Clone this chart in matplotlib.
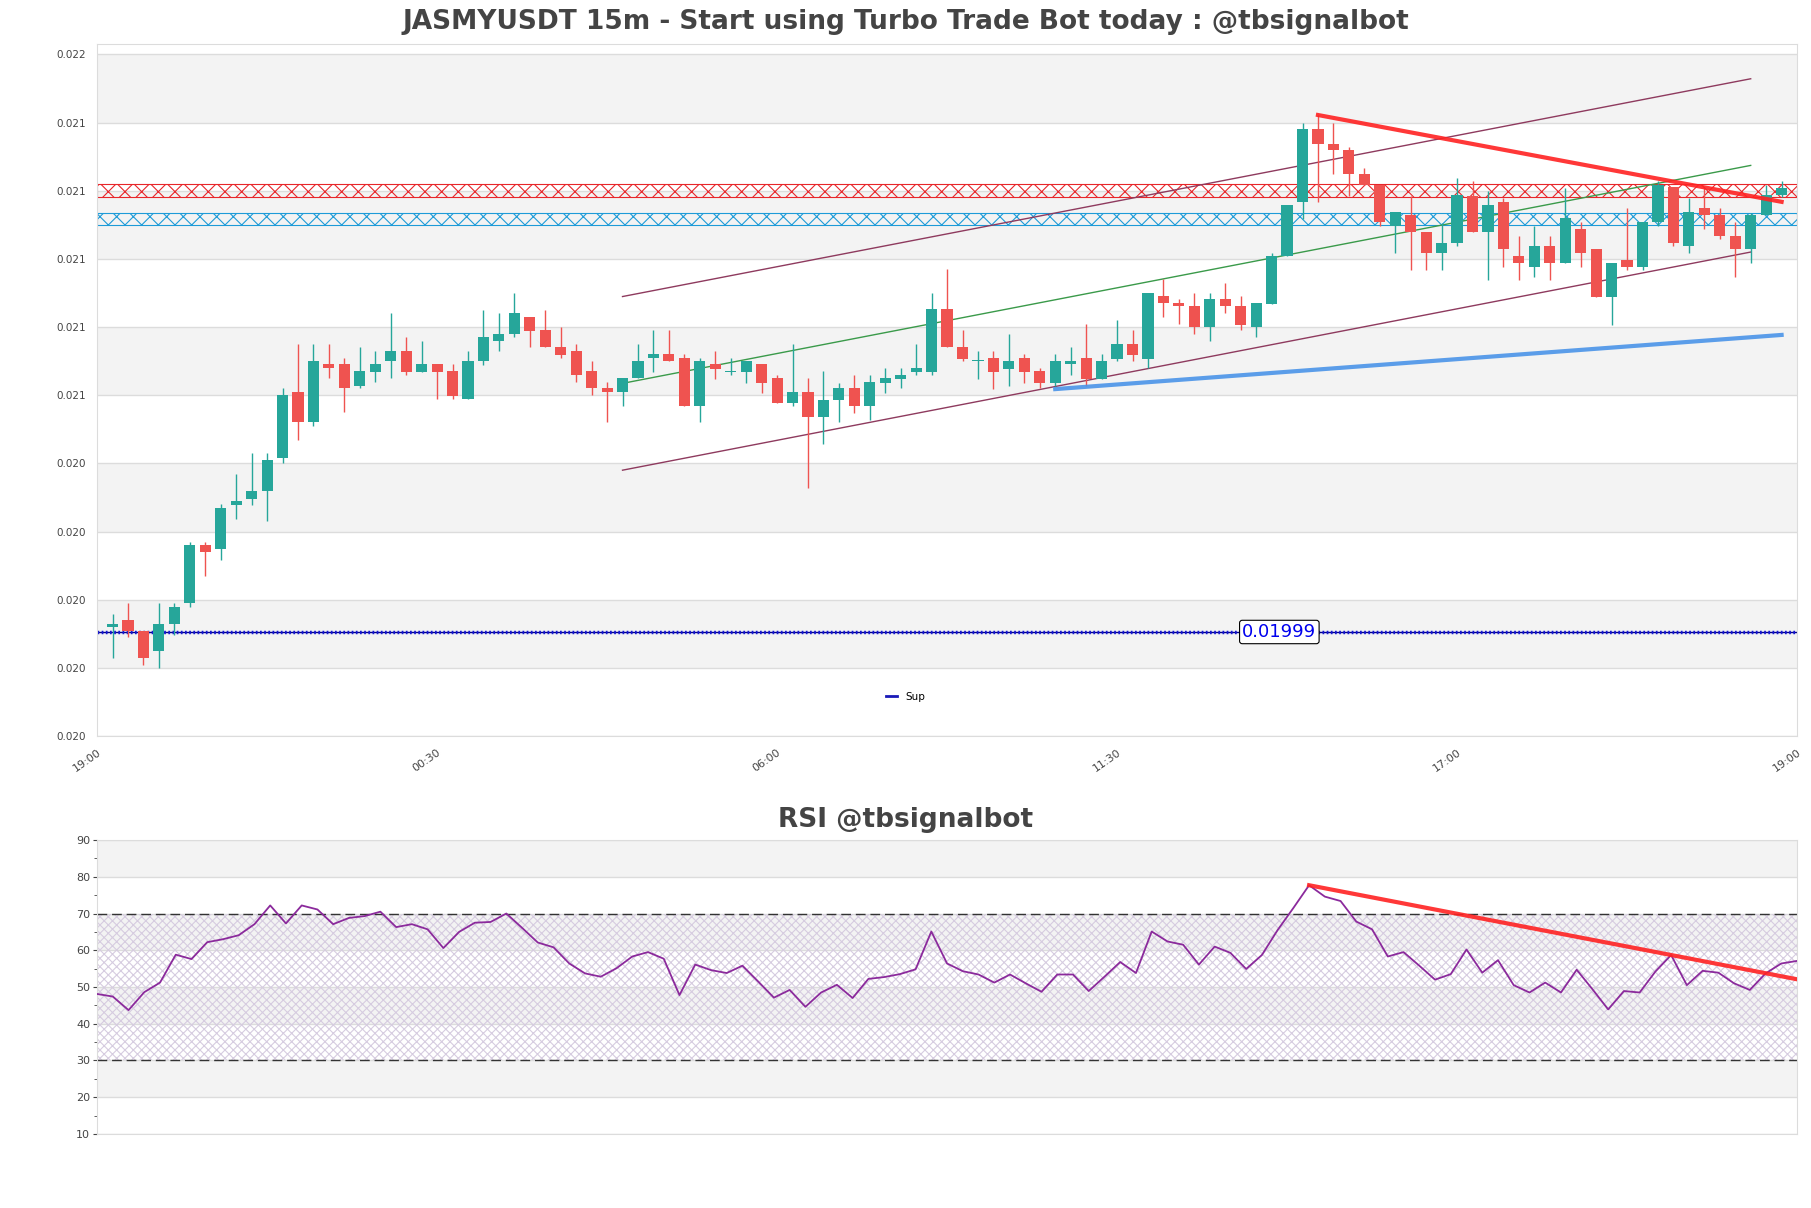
import numpy as np
import matplotlib.pyplot as plt
from matplotlib.lines import Line2D

title_main = "JASMYUSDT 15m - Start using Turbo Trade Bot today : @tbsignalbot"
title_rsi = "RSI @tbsignalbot"

# 15m candles, oldest first
opens = [0.020003, 0.020024, 0.019992, 0.019936, 0.020011, 0.020070, 0.020233, 0.020220, 0.020345, 0.020362,
         0.020382, 0.020476, 0.020658, 0.020574, 0.020736, 0.020736, 0.020677, 0.020716, 0.020745, 0.020773,
         0.020716, 0.020736, 0.020717, 0.020639, 0.020745, 0.020800, 0.020820, 0.020868, 0.020832, 0.020784,
         0.020773, 0.020717, 0.020669, 0.020658, 0.020697, 0.020754, 0.020764, 0.020754, 0.020621, 0.020736,
         0.020715, 0.020715, 0.020736, 0.020698, 0.020629, 0.020658, 0.020590, 0.020638, 0.020669, 0.020621,
         0.020685, 0.020696, 0.020715, 0.020715, 0.020889, 0.020784, 0.020744, 0.020754, 0.020724, 0.020754,
         0.020717, 0.020685, 0.020736, 0.020754, 0.020696, 0.020752, 0.020792, 0.020752, 0.020927, 0.020907,
         0.020898, 0.020839, 0.020917, 0.020898, 0.020839, 0.020904, 0.021039, 0.021189, 0.021391, 0.021351,
         0.021334, 0.021267, 0.021237, 0.021121, 0.021153, 0.021105, 0.021047, 0.021075, 0.021205, 0.021105,
         0.021189, 0.021039, 0.021007, 0.021067, 0.021019, 0.021114, 0.021058, 0.020924, 0.021028, 0.021007,
         0.021132, 0.021231, 0.021065, 0.021173, 0.021153, 0.021095, 0.021058, 0.021153, 0.021209]
highs = [0.020041, 0.020071, 0.019994, 0.020071, 0.020071, 0.020240, 0.020240, 0.020346, 0.020431, 0.020489,
         0.020489, 0.020670, 0.020793, 0.020793, 0.020793, 0.020754, 0.020784, 0.020773, 0.020879, 0.020811,
         0.020801, 0.020736, 0.020736, 0.020773, 0.020888, 0.020879, 0.020934, 0.020868, 0.020888, 0.020839,
         0.020792, 0.020746, 0.020686, 0.020698, 0.020792, 0.020832, 0.020832, 0.020764, 0.020754, 0.020774,
         0.020754, 0.020746, 0.020736, 0.020706, 0.020792, 0.020698, 0.020717, 0.020685, 0.020706, 0.020706,
         0.020726, 0.020726, 0.020792, 0.020936, 0.021003, 0.020832, 0.020774, 0.020774, 0.020820, 0.020764,
         0.020726, 0.020764, 0.020784, 0.020849, 0.020764, 0.020861, 0.020832, 0.020936, 0.020975, 0.020917,
         0.020936, 0.020936, 0.020964, 0.020927, 0.020907, 0.021047, 0.021181, 0.021410, 0.021431, 0.021410,
         0.021343, 0.021283, 0.021237, 0.021161, 0.021205, 0.021105, 0.021131, 0.021256, 0.021248, 0.021220,
         0.021200, 0.021095, 0.021123, 0.021095, 0.021227, 0.021132, 0.021058, 0.021019, 0.021173, 0.021132,
         0.021248, 0.021231, 0.021200, 0.021227, 0.021173, 0.021132, 0.021159, 0.021237, 0.021248]
lows = [0.019917, 0.019976, 0.019897, 0.019889, 0.019983, 0.020059, 0.020145, 0.020192, 0.020306, 0.020345,
        0.020298, 0.020460, 0.020524, 0.020563, 0.020697, 0.020602, 0.020669, 0.020686, 0.020697, 0.020705,
        0.020716, 0.020639, 0.020639, 0.020639, 0.020735, 0.020772, 0.020811, 0.020783, 0.020783, 0.020754,
        0.020686, 0.020650, 0.020574, 0.020621, 0.020697, 0.020716, 0.020745, 0.020621, 0.020574, 0.020695,
        0.020705, 0.020685, 0.020657, 0.020629, 0.020621, 0.020391, 0.020515, 0.020574, 0.020601, 0.020581,
        0.020657, 0.020669, 0.020705, 0.020706, 0.020783, 0.020744, 0.020695, 0.020667, 0.020677, 0.020685,
        0.020669, 0.020677, 0.020705, 0.020677, 0.020696, 0.020744, 0.020744, 0.020726, 0.020867, 0.020848,
        0.020820, 0.020801, 0.020878, 0.020832, 0.020811, 0.020904, 0.021039, 0.021140, 0.021189, 0.021267,
        0.021205, 0.021237, 0.021121, 0.021047, 0.020998, 0.020998, 0.020998, 0.021065, 0.021105, 0.020972,
        0.021007, 0.020972, 0.020979, 0.020972, 0.021019, 0.021007, 0.020924, 0.020845, 0.020998, 0.020998,
        0.021123, 0.021065, 0.021047, 0.021114, 0.021086, 0.020980, 0.021019, 0.021153, 0.021203]
closes = [0.020013, 0.019992, 0.019917, 0.020013, 0.020059, 0.020233, 0.020212, 0.020335, 0.020356, 0.020383,
          0.020470, 0.020650, 0.020574, 0.020746, 0.020725, 0.020669, 0.020717, 0.020736, 0.020773, 0.020716,
          0.020736, 0.020716, 0.020648, 0.020746, 0.020811, 0.020821, 0.020879, 0.020830, 0.020783, 0.020763,
          0.020705, 0.020669, 0.020658, 0.020698, 0.020746, 0.020764, 0.020745, 0.020621, 0.020746, 0.020724,
          0.020717, 0.020746, 0.020685, 0.020629, 0.020658, 0.020590, 0.020638, 0.020669, 0.020621, 0.020686,
          0.020698, 0.020706, 0.020726, 0.020889, 0.020783, 0.020752, 0.020746, 0.020715, 0.020746, 0.020715,
          0.020685, 0.020746, 0.020746, 0.020696, 0.020746, 0.020792, 0.020763, 0.020936, 0.020907, 0.020898,
          0.020839, 0.020917, 0.020898, 0.020847, 0.020907, 0.021039, 0.021181, 0.021391, 0.021351, 0.021334,
          0.021267, 0.021237, 0.021132, 0.021161, 0.021105, 0.021047, 0.021075, 0.021209, 0.021105, 0.021181,
          0.021058, 0.021019, 0.021067, 0.021019, 0.021143, 0.021047, 0.020924, 0.021019, 0.021007, 0.021132,
          0.021237, 0.021075, 0.021161, 0.021153, 0.021095, 0.021058, 0.021153, 0.021209, 0.021227]

rsi = [48.1, 47.4, 43.7, 48.6, 51.2, 58.8, 57.6, 62.2, 63.0, 64.1,
       67.1, 72.2, 67.3, 72.2, 71.1, 67.1, 68.8, 69.3, 70.5, 66.3,
       67.1, 65.7, 60.6, 65.0, 67.5, 67.7, 70.0, 66.1, 62.1, 60.8,
       56.4, 53.7, 52.8, 55.1, 58.3, 59.5, 57.7, 47.8, 56.1, 54.6,
       53.8, 55.8, 51.5, 47.1, 49.2, 44.6, 48.5, 50.6, 47.0, 52.2,
       52.7, 53.5, 54.8, 65.1, 56.4, 54.3, 53.4, 51.2, 53.4, 51.0,
       48.7, 53.4, 53.4, 48.9, 52.8, 56.8, 53.8, 65.1, 62.4, 61.5,
       56.1, 61.0, 59.3, 54.9, 58.7, 65.5, 71.5, 77.7, 74.6, 73.4,
       67.8, 65.7, 58.3, 59.5, 55.8, 52.0, 53.5, 60.2, 53.9, 57.3,
       50.5, 48.5, 51.2, 48.5, 54.7, 49.4, 43.9, 48.9, 48.5, 54.2,
       58.7, 50.5, 54.4, 53.9, 51.0, 49.2, 53.7, 56.4, 57.1]

time_labels = ['19:00', '00:30', '06:00', '11:30', '17:00', '19:00']
price_ticks = [0.0197, 0.01989, 0.02008, 0.02027, 0.02046, 0.02065, 0.02084, 0.02103, 0.02122, 0.02141, 0.0216]
price_labels = ['0.020', '0.020', '0.020', '0.020', '0.020', '0.021', '0.021', '0.021', '0.021', '0.021', '0.022']
rsi_ticks = [10, 20, 30, 40, 50, 60, 70, 80, 90]

# levels and drawn lines
res_zone = [0.021203, 0.021238]
sup_zone = [0.021124, 0.021159]
sup_level = 0.01999
channel_x = [33, 106]
channel_upper = [0.020925, 0.021532]
channel_lower = [0.020441, 0.021049]
down_x = [78, 108]
down_y = [0.021431, 0.021189]
up_x = [61, 108]
up_y = [0.020667, 0.020818]
rsi_trend_x = [77, 108]
rsi_trend_y = [77.7, 52.1]

UP = '#26a69a'
DOWN = '#ef5350'
BAND = '#f3f3f3'
GRID = '#dcdcdc'
TXT = '#444444'

plt.rcParams['hatch.linewidth'] = 0.8

fig = plt.figure(figsize=(18.11, 12.08), dpi=100)
ax = fig.add_axes([0.0536, 0.3907, 0.9387, 0.5729])
ax2 = fig.add_axes([0.0536, 0.0613, 0.9387, 0.2433])

n = len(opens)
x = np.arange(n)

# ---- price panel ----
ax.set_xlim(-1, n)
ax.set_ylim(price_ticks[0], 0.021629)
for k in range(1, len(price_ticks) - 1, 2):
    ax.axhspan(price_ticks[k], price_ticks[k + 1], color=BAND, lw=0, zorder=0)
for p in price_ticks:
    ax.axhline(p, color=GRID, lw=1, zorder=0.5)

ax.axhspan(res_zone[0], res_zone[1], facecolor='none', edgecolor='#e8262a', hatch='xx', lw=0.8, zorder=1)
ax.axhspan(sup_zone[0], sup_zone[1], facecolor='none', edgecolor='#1d9bd8', hatch='xx', lw=0.8, zorder=1)

for i in range(n):
    o, h, l, c = opens[i], highs[i], lows[i], closes[i]
    col = UP if c >= o else DOWN
    ax.vlines(x[i], l, h, color=col, lw=1, zorder=3)
    body = max(abs(c - o), 0.000003)
    ax.bar(x[i], body, bottom=min(o, c), width=0.72, color=col, lw=0, zorder=3)

ax.plot(channel_x, channel_upper, color='#8e3a5e', lw=1, zorder=2)
ax.plot(channel_x, channel_lower, color='#8e3a5e', lw=1, zorder=2)
mid = [(a + b) / 2 for a, b in zip(channel_upper, channel_lower)]
ax.plot(channel_x, mid, color='#3a9a4a', lw=1, zorder=2)

ax.plot(down_x, down_y, color='#ff2222', lw=3, alpha=0.9, zorder=4)
ax.plot(up_x, up_y, color='#4a94e8', lw=3, alpha=0.9, zorder=4)

ax.axhline(sup_level, color='#00008b', lw=1, zorder=2)
ax.axhline(sup_level, color='#1515d0', lw=2.5, ls=(0, (0.5, 0.7)), zorder=2)
ax.text(75.5, sup_level, '0.01999', color='#0000ee', fontsize=13, ha='center', va='center', zorder=5,
        bbox=dict(boxstyle='round,pad=0.15', fc='white', ec='black', lw=0.8))

ax.set_yticks(price_ticks)
ax.set_yticklabels(price_labels)
ax.set_xticks(np.linspace(-1, n, len(time_labels)))
ax.set_xticklabels(time_labels, rotation=35, ha='right', rotation_mode='anchor')
ax.tick_params(axis='y', length=0, labelsize=7.5, colors=TXT, pad=8)
ax.tick_params(axis='x', length=0, labelsize=8, colors=TXT, pad=8)
for s in ax.spines.values():
    s.set_color(GRID)

fig.text(0.5, 0.982, title_main, ha='center', va='center', fontsize=19, fontweight='bold', color=TXT)
fig.legend(handles=[Line2D([], [], color='#1a1ab8', lw=2)], labels=['Sup'], loc='center',
           bbox_to_anchor=(0.5, 1 - 697 / 1208), frameon=False, fontsize=7.5, handlelength=1.0)

# ---- RSI panel ----
ax2.set_xlim(0, n - 1)
ax2.set_ylim(10, 90)
for k in range(1, len(rsi_ticks) - 1, 2):
    ax2.axhspan(rsi_ticks[k], rsi_ticks[k + 1], color=BAND, lw=0, zorder=0)
for r in rsi_ticks:
    ax2.axhline(r, color=GRID, lw=1, zorder=0.5)
ax2.axhspan(30, 70, facecolor='none', edgecolor='#d6cce0', hatch='xxxx', lw=0, zorder=1)
ax2.axhline(70, color='#333333', lw=1, dashes=(7, 3.5), zorder=2)
ax2.axhline(30, color='#333333', lw=1, dashes=(7, 3.5), zorder=2)
ax2.plot(x, rsi, color='#8b2a9c', lw=1.3, zorder=3)
ax2.plot(rsi_trend_x, rsi_trend_y, color='#ff2222', lw=3, alpha=0.9, zorder=4)

ax2.set_yticks(rsi_ticks)
ax2.set_yticks([15, 25, 35, 45, 55, 65, 75, 85], minor=True)
ax2.set_xticks([])
ax2.tick_params(axis='y', which='major', length=3, labelsize=8, colors=TXT, pad=2)
ax2.tick_params(axis='y', which='minor', length=2, colors=TXT)
for s in ax2.spines.values():
    s.set_color(GRID)

fig.text(0.5, 1 - 820 / 1208, title_rsi, ha='center', va='center', fontsize=19, fontweight='bold', color=TXT)

fig.savefig('out.png', dpi=100)
